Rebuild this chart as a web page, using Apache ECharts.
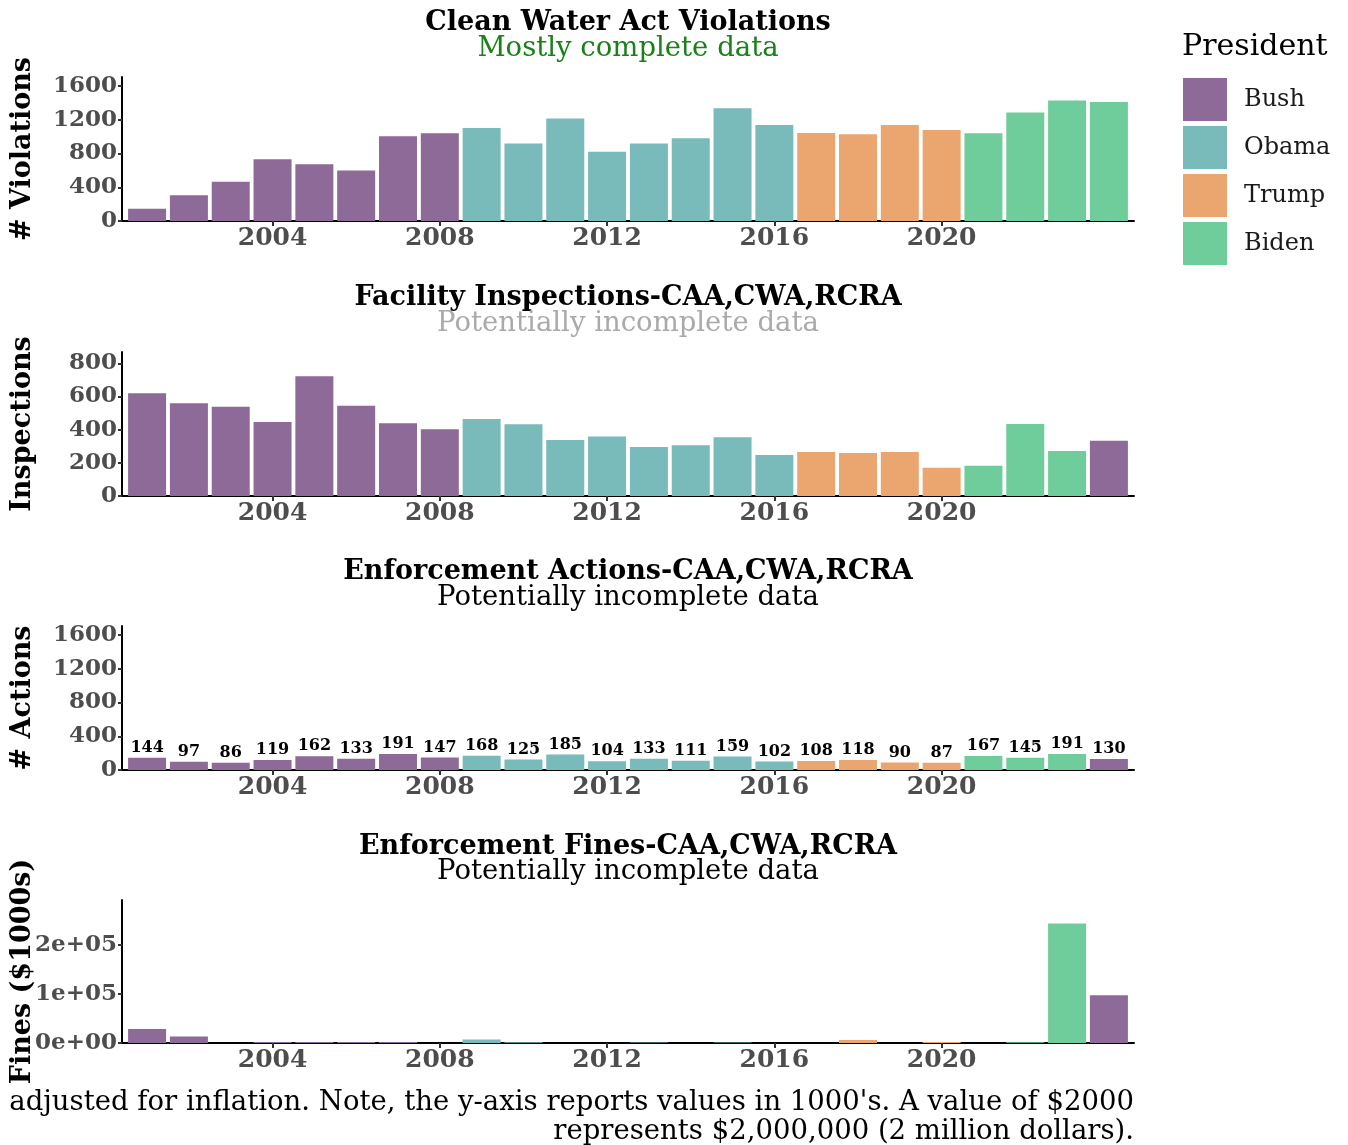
<!DOCTYPE html>
<html><head><meta charset="utf-8">
<script src="https://cdn.jsdelivr.net/npm/echarts@6/dist/echarts.min.js"></script>
<style>html,body{margin:0;padding:0;background:#fff}#c{width:1348px;height:1145px}</style>
</head><body><div id="c"></div><script>
const years = [2001,2002,2003,2004,2005,2006,2007,2008,2009,2010,2011,2012,2013,2014,2015,2016,2017,2018,2019,2020,2021,2022,2023,2024];
const violations = [145,304,465,733,674,599,1005,1041,1103,919,1214,820,919,981,1336,1139,1044,1029,1139,1080,1041,1285,1427,1411];
const inspections = [619,559,538,446,722,544,438,402,464,432,338,358,295,306,354,247,265,259,265,171,183,434,271,333];
const actions = [144,97,86,119,162,133,191,147,168,125,185,104,133,111,159,102,108,118,90,87,167,145,191,130];
const fines = [28500,13400,0,2000,2000,2000,2000,0,7000,1500,0,0,1000,0,1000,0,0,6000,0,2000,0,1500,243000,97000];
const presidentsViolations = ['Bush','Bush','Bush','Bush','Bush','Bush','Bush','Bush','Obama','Obama','Obama','Obama','Obama','Obama','Obama','Obama','Trump','Trump','Trump','Trump','Biden','Biden','Biden','Biden'];
const presidentsEnforcement = ['Bush','Bush','Bush','Bush','Bush','Bush','Bush','Bush','Obama','Obama','Obama','Obama','Obama','Obama','Obama','Obama','Trump','Trump','Trump','Trump','Biden','Biden','Biden','Bush'];
const presidentNames = ['Bush','Obama','Trump','Biden'];
const xTickValues = [2004,2008,2012,2016,2020];
const violationTicks = [0,400,800,1200,1600];
const inspectionTicks = [0,200,400,600,800];
const actionTicks = [0,400,800,1200,1600];
const fineTicks = [0,100000,200000];

const colors = {Bush:'#8E6A98', Obama:'#79BABA', Trump:'#EBA66F', Biden:'#6FCD9B'};
const FF = '"DejaVu Serif", serif';
const tickGrey = '#4D4D4D';

const sci = v => {
  if (v === 0) return '0e+00';
  const e = Math.floor(Math.log10(v));
  const m = Math.round(v / Math.pow(10, e));
  return m + 'e+' + String(e).padStart(2, '0');
};

const grids = [
  {left:122, width:1012, top:77, height:144, outerBoundsMode:'none', containLabel:false},
  {left:122, width:1012, top:352, height:144, outerBoundsMode:'none', containLabel:false},
  {left:122, width:1012, top:626, height:144, outerBoundsMode:'none', containLabel:false},
  {left:122, width:1012, top:900, height:143, outerBoundsMode:'none', containLabel:false}
];
const yMax = [1707, 868, 1707, 291000];
const yTicks = [violationTicks, inspectionTicks, actionTicks, fineTicks];
const yNames = ['# Violations', 'Inspections', '# Actions', 'Fines ($1000s)'];
const datasets = [violations, inspections, actions, fines];
const presSets = [presidentsViolations, presidentsEnforcement, presidentsEnforcement, presidentsEnforcement];

const xAxes = grids.map((g, i) => ({
  type:'value', gridIndex:i, min:2000.4, max:2024.6,
  splitLine:{show:false},
  axisLine:{show:true, onZero:false, lineStyle:{color:'#000', width:2}},
  axisTick:{show:true, customValues:xTickValues, length:5, lineStyle:{color:'#333', width:2}},
  axisLabel:{customValues:xTickValues, fontFamily:FF, fontWeight:'bold', fontSize:25, color:tickGrey, margin:5,
    formatter: v => String(v)}
}));
const yAxes = grids.map((g, i) => ({
  type:'value', gridIndex:i, min:0, max:yMax[i],
  splitLine:{show:false},
  axisLine:{show:true, lineStyle:{color:'#000', width:2}},
  axisTick:{show:true, customValues:yTicks[i], length:4, lineStyle:{color:'#333', width:2}},
  axisLabel:{customValues:yTicks[i], fontFamily:FF, fontWeight:'bold', fontSize:23, color:tickGrey, margin:5,
    formatter: i === 3 ? sci : (v => String(v))},
  name:yNames[i], nameLocation:'middle', nameRotate:90, nameGap:86, nameMoveOverlap:false,
  nameTextStyle:{fontFamily:FF, fontWeight:'bold', fontSize:27, color:'#000'}
}));

const series = datasets.map((d, i) => ({
  type:'bar', xAxisIndex:i, yAxisIndex:i, barWidth:38,
  data: d.map((v, k) => ({value:[years[k], v], itemStyle:{color:colors[presSets[i][k]]}})),
  label: i === 2 ? {show:true, position:'top', distance:2, fontFamily:FF, fontWeight:'bold', fontSize:16, color:'#000',
    formatter: p => String(p.value[1])} : {show:false},
  silent:true
}));
presidentNames.forEach(n => series.push({
  type:'line', name:n, xAxisIndex:0, yAxisIndex:0, data:[],
  itemStyle:{color:colors[n]}, lineStyle:{color:colors[n]}
}));

const txt = (text, x, y, opts) => ({
  type:'text', x, y, silent:true,
  style:Object.assign({text, fontFamily:FF, fontSize:27, fill:'#000', textAlign:'center', textVerticalAlign:'middle'}, opts || {})
});

const graphics = [
  txt('Clean Water Act Violations', 628, 23, {fontWeight:'bold', fontSize:27}),
  txt('Mostly complete data', 628, 49, {fill:'#1A801A', fontSize:27.5}),
  txt('Facility Inspections-CAA,CWA,RCRA', 628, 298, {fontWeight:'bold', fontSize:27}),
  txt('Potentially incomplete data', 628, 324, {fill:'#AAAAAA', fontSize:27.5}),
  txt('Enforcement Actions-CAA,CWA,RCRA', 628, 572, {fontWeight:'bold', fontSize:27}),
  txt('Potentially incomplete data', 628, 598, {fontSize:27.5}),
  txt('Enforcement Fines-CAA,CWA,RCRA', 628, 847, {fontWeight:'bold', fontSize:27}),
  txt('Potentially incomplete data', 628, 872, {fontSize:27.5}),
  txt("adjusted for inflation. Note, the y-axis reports values in 1000's. A value of $2000", 1134, 1103, {textAlign:'right', fontSize:27.5}),
  txt('represents $2,000,000 (2 million dollars).', 1134, 1132, {textAlign:'right', fontSize:27.5}),
  txt('President', 1182, 47, {textAlign:'left', fontSize:30})
];

const chart = echarts.init(document.getElementById('c'), null, {renderer:'canvas'});
chart.setOption({
  animation:false,
  backgroundColor:'#fff',
  grid:grids,
  xAxis:xAxes,
  yAxis:yAxes,
  series:series,
  legend:{
    data:presidentNames, orient:'vertical', left:1183, top:78, padding:0,
    icon:'rect', itemWidth:44, itemHeight:43, itemGap:5, selectedMode:false,
    textStyle:{fontFamily:FF, fontSize:24, color:'#1A1A1A', padding:[0,0,0,12]}
  },
  graphic:graphics
});
</script></body></html>
